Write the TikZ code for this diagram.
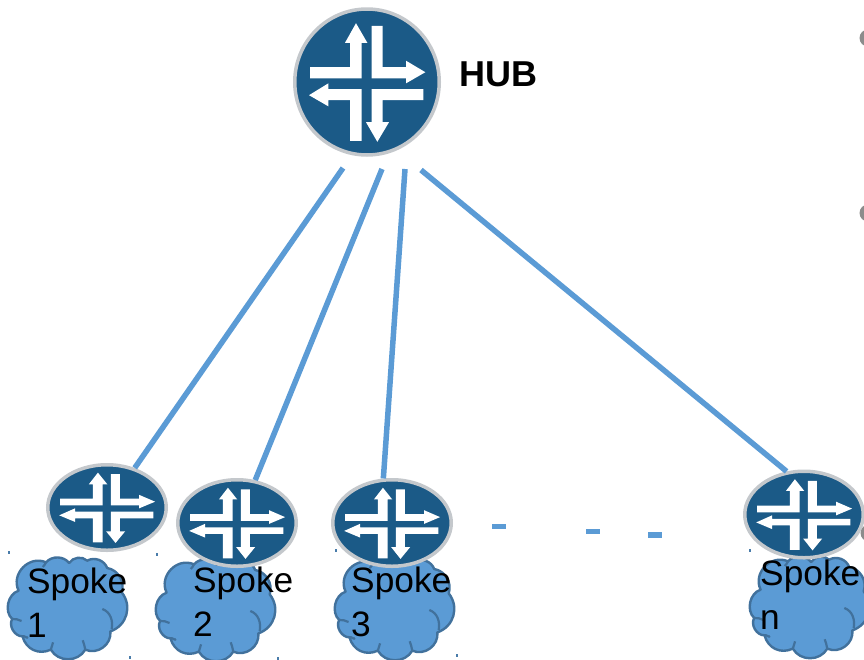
\documentclass[tikz,border=0pt]{standalone}
\usepackage{fontspec}
\setmainfont{Liberation Sans}
\usetikzlibrary{shapes.geometric}
\definecolor{routerblue}{HTML}{1B5A87}
\definecolor{routerrim}{HTML}{C4C8CC}
\definecolor{linkblue}{HTML}{5B9BD5}
\definecolor{cloudedge}{HTML}{41719C}
\definecolor{bulletgray}{HTML}{8C8C8C}
\tikzset{
  router/.style={ellipse,draw=routerrim,fill=routerblue,line width=3.5pt,inner sep=0pt,minimum width=#1},
  link/.style={draw=linkblue,line width=5.5pt},
  spoketext/.style={anchor=north west,inner sep=0pt,align=left,text=black,font=\fontsize{35.3}{43.5}\selectfont},
  cloudbody/.style={fill=linkblue,draw=cloudedge,line width=2.4pt,line join=round},
  cloudinner/.style={draw=cloudedge,line width=2.2pt},
  speck/.style={fill=linkblue!80!black,draw=none},
  dashmark/.style={fill=linkblue,draw=none},
  bullet/.style={circle,fill=bulletgray,inner sep=0pt,minimum size=17pt}
}
\newcommand{\routerarrows}[4]{%
  \begin{scope}[shift={(#1,#2)},xscale=#3/222,yscale=#4/222]
  \begin{scope}[shift={(-261,-246)}]
    \fill[white] (90,202)--(210,202)--(210,130)--(195,130)--(228,72)--(262,130)--(245,130)--(245,235)--(90,235)--cycle;
    \fill[white] (275,80)--(308,80)--(308,202)--(378,202)--(378,183)--(436,217)--(378,250)--(378,235)--(275,235)--cycle;
    \fill[white] (245,267)--(145,267)--(145,250)--(87,285)--(145,318)--(145,300)--(210,300)--(210,420)--(245,420)--cycle;
    \fill[white] (430,267)--(430,300)--(308,300)--(308,365)--(327,365)--(292,423)--(258,365)--(275,365)--(275,267)--cycle;
  \end{scope}
  \end{scope}}
\newcommand{\cloudat}[2]{%
  \begin{scope}[shift={(#1,#2)},x=0.322pt,y=-0.3333pt]
    \path[cloudbody] (33,113) to[bend left=70,looseness=1.2] (118,28)
      to[bend left=50] (190,30) to[bend left=50] (246,23)
      to[bend left=50] (308,45) to[bend left=50] (353,118)
      to[bend left=55,looseness=1.1] (318,235) to[bend left=60,looseness=1.1] (240,290)
      to[bend left=60,looseness=1.1] (133,290) to[bend left=50,looseness=1.1] (45,250)
      to[bend left=60] (13,198) to[bend left=60] (33,113) -- cycle;
    \draw[cloudinner] (293,168) to[out=-20,in=80] (322,228);
    \draw[cloudinner] (118,28) to[out=-100,in=60] (108,42);
    \draw[cloudinner] (13,198) to[out=20,in=170] (42,204);
    \draw[cloudinner] (133,290) to[out=70,in=-100] (140,268);
    \draw[cloudinner] (240,290) to[out=100,in=-70] (232,262);
    \draw[cloudinner] (45,250) to[out=30,in=-110] (62,252);
  \end{scope}}
\begin{document}
\begin{tikzpicture}[x=1pt,y=-1pt]
\useasboundingbox (0,0) rectangle (864,659);
\clip (0,0) rectangle (864,659);
\node[bullet] (b1) at (868,38) {};
\node[bullet] (b2) at (868,213) {};
\node[bullet] (b3) at (869,533) {};
\cloudat{8}{553}
\cloudat{156}{555}
\cloudat{335}{554}
\cloudat{750}{552}
\foreach \sx/\sy in {9/552,157/554,130/657,278/658,336/550,457/655,750/550}
  \fill[speck] (\sx-0.7,\sy-1.5) rectangle (\sx+0.7,\sy+1.5);
\node[router=118.5pt,minimum height=85.5pt] (r1) at (107,507.5) {};
\node[router=118.5pt,minimum height=86.5pt] (r2) at (237,523) {};
\node[router=118.5pt,minimum height=86.5pt] (r3) at (392,523) {};
\node[router=118.5pt,minimum height=86.5pt] (rn) at (804,514.5) {};
\node[router=144.5pt,minimum height=146pt] (hub) at (367,82) {};
\routerarrows{367}{82}{74}{75}
\routerarrows{107}{507.5}{61}{44.5}
\routerarrows{237}{523}{61}{45}
\routerarrows{392}{523}{61}{45}
\routerarrows{804}{514.5}{61}{45}
\coordinate (h1) at (343,168);
\coordinate (h2) at (382,169);
\coordinate (h3) at (405,169);
\coordinate (h4) at (421,170);
\draw[link] (h1) -- (r1.55);
\draw[link] (h2) -- (r2.67);
\draw[link] (h3) -- (r3.101);
\draw[link] (h4) -- (rn.112);
\fill[dashmark] (492,523.5) rectangle (506,529);
\fill[dashmark] (586,528.5) rectangle (599.5,534);
\fill[dashmark] (648,532) rectangle (662,538);
\node[anchor=base west,inner sep=0pt,font=\fontsize{36}{42}\selectfont\bfseries] (hubl) at (459,86) {HUB};
\node[spoketext] (s1) at (27,568) {Spoke\\1};
\node[spoketext] (s2) at (193,567) {Spoke\\2};
\node[spoketext] (s3) at (351,567) {Spoke\\3};
\node[spoketext] (sn) at (760,560) {Spoke\\n};
\end{tikzpicture}
\end{document}
